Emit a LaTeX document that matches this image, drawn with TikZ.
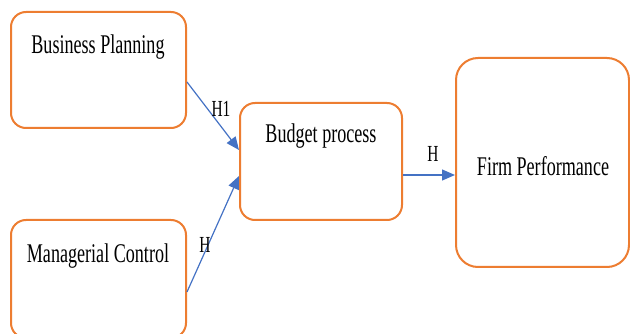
\documentclass[tikz,border=0pt]{standalone}
\usepackage{fontspec}
\setmainfont{Liberation Serif}
\newfontfamily\narrowserif[FakeStretch=0.67]{Liberation Serif}
\usetikzlibrary{arrows.meta,positioning}
\definecolor{boxorange}{RGB}{237,125,49}
\definecolor{linkblue}{RGB}{68,114,196}
\tikzset{
  box/.style={draw=boxorange, line width=2pt, rounded corners=15pt, fill=white, inner sep=0pt},
  boxtext/.style={font=\narrowserif\fontsize{27}{30}\selectfont, inner sep=0pt, anchor=base},
  link/.style={draw=linkblue, line width=1.2pt, -{Triangle[length=13pt,width=11pt]}},
  hyp/.style={font=\narrowserif\fontsize{23}{25}\selectfont, inner sep=0pt},
}
\begin{document}
\begin{tikzpicture}[x=1pt,y=-1pt]
  \useasboundingbox (0,0) rectangle (630,334);
  % boxes
  \node[box, minimum width=175pt, minimum height=116pt] (bp) at (98.5,70) {};
  \node[box, minimum width=175pt, minimum height=118pt] (mc) at (98.5,279) {};
  \node[box, minimum width=162pt, minimum height=117pt] (bud) at (321,161.5) {};
  \node[box, minimum width=173pt, minimum height=209pt, rounded corners=22pt] (fp) at (542.5,162.5) {};
  % box titles
  \node[boxtext] (bpt) at (98,54) {Business Planning};
  \node[boxtext] (mct) at (98,262) {Managerial Control};
  \node[boxtext] (budt) at (321,143) {Budget process};
  \node[boxtext] (fpt) at (543,176) {Firm Performance};
  % connectors
  \draw[link] ([yshift=-12pt]bp.east) -- ([yshift=11.5pt]bud.west);
  \draw[link] ([yshift=-13pt]mc.east) -- ([yshift=-14.5pt]bud.west);
  \draw[link] ([yshift=-13.5pt]bud.east) -- ([yshift=-12.5pt]fp.west);
  % hypothesis labels
  \node[hyp] (h1) at (221,109) {H1};
  \node[hyp] (h2) at (205,245) {H};
  \node[hyp] (h3) at (433,154) {H};
\end{tikzpicture}
\end{document}
